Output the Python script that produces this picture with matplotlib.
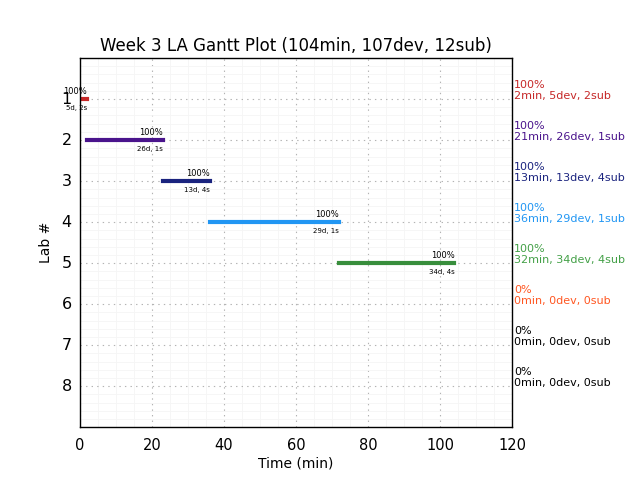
import matplotlib
matplotlib.use("Agg")
import matplotlib.pyplot as plt
from matplotlib.ticker import MultipleLocator

# data
labs = [1, 2, 3, 4, 5, 6, 7, 8]
minutes = [2, 21, 13, 36, 32, 0, 0, 0]
devs = [5, 26, 13, 29, 34, 0, 0, 0]
subs = [2, 1, 4, 1, 4, 0, 0, 0]
percent = [100, 100, 100, 100, 100, 0, 0, 0]
colors = ["#c62828", "#4a148c", "#1a237e", "#2196f3", "#388e3c", "#ff5722", "k", "k"]
label_colors = ["#c62828", "#4a148c", "#1a237e", "#2196f3", "#43a047", "#ff5722", "k", "k"]

plt.style.use("classic")
fig = plt.figure(figsize=(6.4, 4.8), dpi=100)
fig.patch.set_facecolor("white")
ax = fig.add_axes([0.125, 0.11, 0.675, 0.769])

start = 0
for lab, m, d, s, p, c, lc in zip(labs, minutes, devs, subs, percent, colors, label_colors):
    end = start + m
    if m > 0:
        ax.plot([start, end], [lab, lab], color=c, linewidth=3, solid_capstyle="projecting")
        ax.text(end, lab - 0.08, f"{p}%", ha="right", va="bottom", fontsize=6)
        ax.text(end, lab + 0.15, f"{d}d, {s}s", ha="right", va="top", fontsize=5)
    ax.text(120.5, lab + 0.05, f"{p}%\n{m}min, {d}dev, {s}sub",
            ha="left", va="bottom", fontsize=8, color=lc, linespacing=1.1)
    start = end

ax.set_xlim(0, 120)
ax.set_ylim(9, 0)
ax.set_yticks(labs)
ax.xaxis.set_major_locator(MultipleLocator(20))
ax.xaxis.set_minor_locator(MultipleLocator(5))
ax.yaxis.set_minor_locator(MultipleLocator(0.2))
ax.tick_params(which="both", length=0)
ax.tick_params(axis="x", labelsize=10.5, pad=8)
ax.tick_params(axis="y", labelsize=11.5, pad=6)
ax.grid(True, which="major", color="0.7", linestyle=":", linewidth=0.8)
ax.grid(True, which="minor", color="0.96", linestyle="-", linewidth=0.6)
ax.set_axisbelow(True)

ax.set_xlabel("Time (min)", fontsize=10, labelpad=2)
ax.set_ylabel("Lab #", fontsize=10, labelpad=6)
ax.set_title("Week 3 LA Gantt Plot (104min, 107dev, 12sub)", fontsize=12)

fig.savefig("out.png", dpi=100, facecolor="white")
